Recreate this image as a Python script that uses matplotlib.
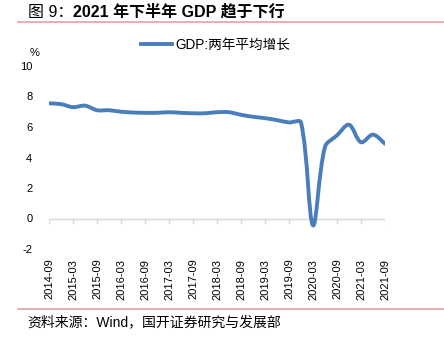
import numpy as np
import matplotlib
matplotlib.use("Agg")
import matplotlib.pyplot as plt
from matplotlib.path import Path
from matplotlib.patches import PathPatch

plt.rcParams['font.family'] = ['Liberation Sans', 'Noto Sans CJK SC', 'DejaVu Sans']
plt.rcParams['axes.unicode_minus'] = False

# quarterly, 2014-09 .. 2021-09
quarters = ['2014-09', '2014-12', '2015-03', '2015-06', '2015-09', '2015-12',
            '2016-03', '2016-06', '2016-09', '2016-12', '2017-03', '2017-06',
            '2017-09', '2017-12', '2018-03', '2018-06', '2018-09', '2018-12',
            '2019-03', '2019-06', '2019-09', '2019-12', '2020-03', '2020-06',
            '2020-09', '2020-12', '2021-03', '2021-06', '2021-09']
gdp = [7.55, 7.5, 7.3, 7.4, 7.1, 7.1, 7.0, 6.95, 6.93, 6.93, 6.97, 6.93,
       6.9, 6.9, 6.97, 6.97, 6.8, 6.67, 6.58, 6.45, 6.3, 6.3, -0.45, 4.7,
       5.45, 6.15, 5.0, 5.5, 4.9]
yticks = [-2, 0, 2, 4, 6, 8, 10]

blue = '#4a7ebb'
W, H = 444, 339
fig = plt.figure(figsize=(W / 100, H / 100), dpi=100)
ax = fig.add_axes([49 / W, 1 - 249 / H, (385 - 49) / W, (249 - 66) / H])

x = np.arange(len(gdp))
y = np.array(gdp)

# smoothed line (Excel style): bezier with chord-length scaled tangents
px = x * 12.0
py = y * 15.25
n = len(x)
seg = np.hypot(np.diff(px), np.diff(py))
verts = [(x[0], y[0])]
codes = [Path.MOVETO]
for i in range(n - 1):
    a, b = max(i - 1, 0), min(i + 2, n - 1)
    l0 = seg[i - 1] if i > 0 else seg[i]
    l1 = seg[i]
    l2 = seg[i + 1] if i + 1 < n - 1 else seg[i]
    d1 = np.array([x[i + 1] - x[a], y[i + 1] - y[a]])
    d2 = np.array([x[b] - x[i], y[b] - y[i]])
    c1 = np.array([x[i], y[i]]) + d1 * l1 / (l0 + l1) / 3
    c2 = np.array([x[i + 1], y[i + 1]]) - d2 * l1 / (l1 + l2) / 3
    verts += [tuple(c1), tuple(c2), (x[i + 1], y[i + 1])]
    codes += [Path.CURVE4] * 3
ax.add_patch(PathPatch(Path(verts, codes), fill=False, edgecolor=blue,
                       lw=2.8, capstyle='round', joinstyle='round', zorder=3))
ax.plot([], [], color=blue, lw=2.8, label='GDP:两年平均增长')

ax.axhline(0, color='#d9d9d9', lw=1, zorder=1)
for xi in x[::2]:
    ax.plot([xi, xi], [0, -0.27], color='#d9d9d9', lw=1, zorder=1)

ax.set_xlim(0, len(gdp) - 1)
ax.set_ylim(-2, 10)
ax.set_yticks(yticks)
ax.set_xticks(x[::2])
ax.set_xticklabels(quarters[::2], rotation=90, fontsize=8)
ax.tick_params(axis='both', length=0, labelsize=8, colors='#000000')
ax.tick_params(axis='x', pad=7)
ax.tick_params(axis='y', pad=12)
for s in ax.spines.values():
    s.set_visible(False)

ax.legend(loc='center', bbox_to_anchor=(0.495, 1.115), frameon=False,
          fontsize=9.8, handlelength=2.3, handletextpad=0.2)

fig.text(30 / W, 1 - 53 / H, '%', fontsize=8, ha='left', va='center')

# title: "图 9：" regular, rest bold
t1 = fig.text(28 / W, 1 - 12 / H, '图 9：', fontsize=11.5, ha='left', va='center')
ax.annotate('2021 年下半年 GDP 趋于下行', xy=(1, 0.5), xycoords=t1,
            fontsize=11.5, fontweight='bold', ha='left', va='center',
            annotation_clip=False)
fig.add_artist(plt.Line2D([18 / W, 1], [1 - 22 / H] * 2, color='#e8a0a0', lw=1.2))
fig.add_artist(plt.Line2D([18 / W, 1], [1 - 309 / H] * 2, color='#e8a0a0', lw=1.2))
fig.text(27 / W, 1 - 322 / H, '资料来源：Wind，国开证券研究与发展部',
         fontsize=10, ha='left', va='center')

fig.savefig('out.png', dpi=100)
